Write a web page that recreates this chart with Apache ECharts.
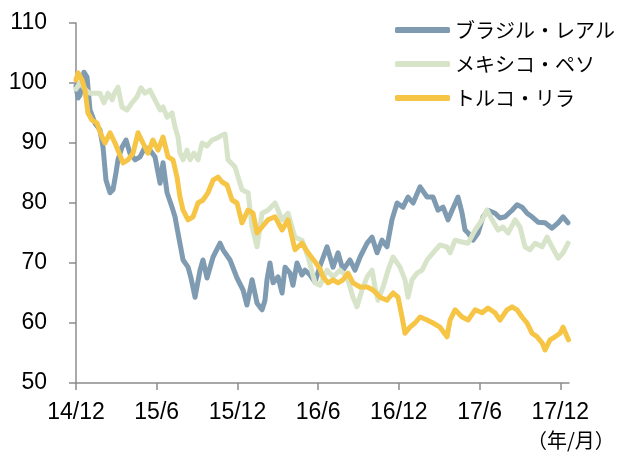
<!DOCTYPE html>
<html>
<head>
<meta charset="utf-8">
<script src="https://cdn.jsdelivr.net/npm/echarts@6/dist/echarts.min.js"></script>
<style>
  html, body { margin: 0; padding: 0; background: #fff; }
  #main { width: 619px; height: 454px; }
</style>
</head>
<body>
<div id="main"></div>
<script>
// x = months since 2014/12
var tickLabels = ['14/12', '15/6', '15/12', '16/6', '16/12', '17/6', '17/12'];
var tickMonths = [0, 6, 12, 18, 24, 30, 36];

var brlMonths = [0, 0.15, 0.30, 0.59, 0.82, 1.04, 1.41, 1.78, 2.01, 2.23, 2.53, 2.75, 2.97, 3.12, 3.42, 3.72, 4.01, 4.39, 4.76, 5.13, 5.50, 5.87, 6.25, 6.47, 6.77, 7.14, 7.36, 7.58, 7.96, 8.33, 8.55, 8.85, 9.22, 9.44, 9.74, 10.19, 10.71, 10.93, 11.45, 11.97, 12.42, 12.71, 13.09, 13.46, 13.83, 14.05, 14.20, 14.42, 14.65, 15.02, 15.32, 15.54, 15.91, 16.13, 16.43, 16.80, 17.03, 17.40, 17.77, 18.14, 18.66, 19.11, 19.48, 19.85, 20.37, 20.74, 21.12, 21.64, 22.01, 22.38, 22.75, 23.12, 23.49, 23.87, 24.31, 24.68, 25.06, 25.58, 26.10, 26.54, 26.91, 27.29, 27.66, 27.96, 28.40, 28.70, 28.92, 29.15, 29.52, 29.89, 30.26, 30.63, 31.15, 31.52, 31.90, 32.42, 32.79, 33.16, 33.53, 33.90, 34.35, 34.87, 35.39, 35.84, 36.21, 36.58];
var brlValues = [99.5, 97.5, 98, 101.8, 101, 95.5, 93.3, 92.2, 89.3, 83.8, 81.7, 82.2, 85, 87.2, 89.3, 90.5, 88.3, 87.2, 87.7, 89.3, 88.8, 87.7, 83.3, 86.7, 81.7, 79.3, 77.7, 75, 70.5, 69.3, 67.5, 64.3, 68.8, 70.5, 67.5, 71, 73.3, 72.2, 70.5, 67.5, 65.5, 63, 67.2, 63.3, 62.2, 63.8, 67.2, 70, 66.7, 67.7, 65, 69.3, 68.3, 66.3, 70, 68, 68.8, 68, 66.8, 69.5, 72.7, 69.3, 71.7, 68.8, 70.5, 68.8, 71, 73.3, 74.3, 71.7, 73.8, 72.7, 77.2, 80, 79.3, 81, 80, 82.7, 81, 81, 78.8, 79.3, 77.2, 78.8, 81, 78.3, 75.5, 75, 73.8, 75, 77.7, 78.8, 78.3, 77.5, 77.7, 78.8, 79.7, 79.3, 78.3, 77.7, 76.8, 76.7, 75.8, 76.7, 77.7, 76.7];

var mxnMonths = [0, 0.30, 0.74, 1.04, 1.41, 1.78, 2.08, 2.38, 2.68, 2.90, 3.12, 3.42, 3.79, 4.16, 4.54, 4.83, 5.13, 5.50, 5.87, 6.25, 6.47, 6.77, 7.14, 7.36, 7.58, 7.73, 7.96, 8.25, 8.48, 8.77, 9.07, 9.37, 9.74, 10.11, 10.48, 10.86, 11.08, 11.30, 11.82, 12.34, 12.79, 13.09, 13.46, 13.83, 14.27, 14.80, 15.32, 15.76, 16.28, 16.80, 17.25, 17.77, 18.14, 18.66, 19.11, 19.63, 20.15, 20.59, 20.89, 21.26, 21.64, 22.01, 22.23, 22.45, 22.83, 23.20, 23.57, 24.09, 24.46, 24.68, 24.98, 25.35, 25.73, 26.10, 26.54, 27.06, 27.58, 27.81, 28.18, 28.70, 29.15, 29.67, 30.19, 30.56, 30.93, 31.38, 31.75, 32.12, 32.64, 33.01, 33.38, 33.75, 34.13, 34.65, 35.02, 35.39, 35.84, 36.21, 36.58];
var mxnValues = [99, 100, 98.8, 98.3, 98.3, 98.3, 96.7, 98.3, 97.2, 98.5, 99.3, 96, 95.5, 96.7, 97.7, 99.2, 98.3, 98.8, 97.2, 95.5, 96, 94.3, 95, 92.7, 91, 88.3, 87.2, 88.8, 87.2, 88.3, 87.2, 90, 89.5, 90.5, 90.8, 91.3, 91.5, 87.2, 86, 82.2, 81.7, 76, 72.7, 78.3, 78.8, 80, 77.2, 78.3, 74.3, 73.8, 71, 66.7, 66.3, 68.8, 67.7, 68.8, 67.7, 64.3, 62.7, 65.5, 67.7, 68.8, 66, 63.8, 66, 68.8, 71, 69.3, 67.2, 64.3, 67.2, 68.3, 68.8, 70.5, 71.7, 73, 72.7, 71.7, 73.8, 73.5, 73.3, 75.5, 77.2, 78.8, 77.2, 75.5, 76, 75, 77.2, 76, 72.7, 72.2, 73.3, 72.7, 74.3, 72.7, 70.8, 71.7, 73.3];

var tryMonths = [0, 0.15, 0.45, 0.67, 0.89, 1.19, 1.56, 1.93, 2.16, 2.53, 2.90, 3.12, 3.49, 3.87, 4.24, 4.61, 4.98, 5.35, 5.72, 6.10, 6.47, 6.84, 7.21, 7.51, 7.73, 7.96, 8.33, 8.70, 9.07, 9.44, 9.81, 10.19, 10.56, 10.86, 11.23, 11.60, 11.97, 12.34, 12.79, 13.16, 13.46, 13.83, 14.27, 14.80, 15.32, 15.76, 16.28, 16.80, 17.25, 17.84, 18.14, 18.36, 18.74, 19.11, 19.48, 19.85, 20.22, 20.59, 21.12, 21.64, 22.08, 22.60, 23.12, 23.57, 23.94, 24.24, 24.46, 24.83, 25.20, 25.58, 26.10, 26.54, 27.06, 27.58, 27.81, 28.18, 28.70, 29.15, 29.67, 30.19, 30.63, 31.15, 31.52, 32.04, 32.42, 32.79, 33.16, 33.53, 33.90, 34.28, 34.65, 34.87, 35.24, 35.61, 35.99, 36.21, 36.51, 36.62];
var tryValues = [100.5, 101.7, 100.5, 98.8, 95, 93.8, 93.3, 91, 90, 91.7, 90, 88.8, 86.7, 87.2, 88.3, 91.7, 90, 88.3, 90.5, 88.8, 91, 87.7, 87.2, 84.3, 81, 78.8, 77.2, 77.7, 80, 80.5, 81.7, 83.8, 84.3, 83.5, 83, 80.5, 80, 76.7, 78.8, 78.3, 75, 76, 77.2, 77.7, 75.5, 77.2, 72.2, 73.3, 71.7, 70, 69, 67.7, 66.7, 67.2, 66.7, 67.2, 68.3, 66.7, 66, 66, 65.5, 64.3, 63.8, 65, 64.3, 61, 58.3, 59.3, 60, 61, 60.5, 60, 59.3, 57.7, 60.5, 62.2, 61, 60.5, 62.2, 61.7, 62.5, 61.7, 60.5, 62.2, 62.7, 62.2, 61, 60, 58.3, 57.7, 56.7, 55.5, 57.2, 57.7, 58.3, 59.3, 57.7, 57.2];

var seriesNames = ['ブラジル・レアル', 'メキシコ・ペソ', 'トルコ・リラ'];
var seriesColors = ['#7f9bb1', '#d7e4c9', '#f6c546'];

function zip(xs, ys) {
    return xs.map(function (x, i) { return [x, ys[i]]; });
}

var font = '"Liberation Sans", Arial, "Noto Sans CJK JP", sans-serif';
var jpFont = '"Noto Sans CJK JP", "Liberation Sans", sans-serif';

var myChart = echarts.init(document.getElementById('main'));
var option = {
    animation: false,
    grid: { left: 76, right: 50, top: 23, bottom: 71 },
    legend: {
        orient: 'vertical',
        left: 390,
        top: 15,
        itemWidth: 55,
        itemHeight: 6,
        itemGap: 14,
        icon: 'roundRect',
        textStyle: { fontFamily: jpFont, fontSize: 20, color: '#000' },
        data: seriesNames
    },
    xAxis: {
        type: 'value',
        min: 0,
        max: 36.65,
        splitLine: { show: false },
        axisLine: { lineStyle: { color: '#8c8c8c', width: 1.5 } },
        axisTick: { length: 7, lineStyle: { color: '#8c8c8c', width: 1.5 }, customValues: tickMonths },
        axisLabel: {
            margin: 18,
            fontFamily: font,
            fontSize: 23,
            color: '#000',
            customValues: tickMonths,
            formatter: function (v) { return tickLabels[tickMonths.indexOf(Math.round(v))]; }
        }
    },
    yAxis: {
        type: 'value',
        min: 50,
        max: 110,
        interval: 10,
        splitLine: { show: false },
        axisLine: { show: true, lineStyle: { color: '#8c8c8c', width: 1.5 } },
        axisTick: { show: true, length: 7, lineStyle: { color: '#8c8c8c', width: 1.5 } },
        axisLabel: { margin: 29, fontFamily: font, fontSize: 23, color: '#000' }
    },
    graphic: [{
        type: 'text',
        left: 527,
        top: 430,
        style: { text: '（年/月）', font: '20px ' + jpFont, fill: '#000' }
    }],
    series: [
        { name: seriesNames[0], type: 'line', data: zip(brlMonths, brlValues) },
        { name: seriesNames[1], type: 'line', data: zip(mxnMonths, mxnValues) },
        { name: seriesNames[2], type: 'line', data: zip(tryMonths, tryValues) }
    ].map(function (s, i) {
        s.showSymbol = false;
        s.symbol = 'none';
        s.color = seriesColors[i];
        s.lineStyle = { width: 5, color: seriesColors[i], join: 'round', cap: 'round' };
        return s;
    })
};
myChart.setOption(option);
</script>
</body>
</html>
